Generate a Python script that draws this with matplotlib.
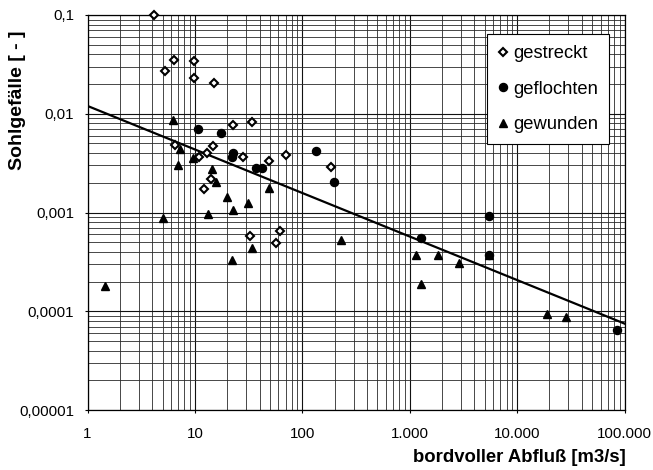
import matplotlib
matplotlib.use("Agg")
import matplotlib.pyplot as plt
from matplotlib.ticker import LogLocator, FixedLocator, FixedFormatter, NullFormatter

plt.rcParams['font.family'] = ['Liberation Sans', 'DejaVu Sans']

# gestreckt (open diamonds)
gestreckt_q = [4.2, 5.3, 6.4, 9.9, 9.9, 15.2, 22.5, 34.0, 6.5, 14.8, 13.0, 10.9,
               28.2, 49.2, 71.0, 185, 14.2, 12.1, 32.8, 62.0, 57.0]
gestreckt_s = [0.099, 0.0272, 0.0349, 0.0339, 0.0231, 0.0204, 0.00769, 0.00826,
               0.00486, 0.00475, 0.00404, 0.00367, 0.00364, 0.00330, 0.00385,
               0.00288, 0.00220, 0.00171, 0.000580, 0.000656, 0.000488]

# geflochten (filled circles)
geflochten_q = [10.8, 17.5, 22.6, 22.3, 36.7, 42.1, 133, 198, 5500, 1275, 5500, 86000]
geflochten_s = [0.00708, 0.00639, 0.00400, 0.00367, 0.00284, 0.00284, 0.00421,
                0.00205, 0.000925, 0.000557, 0.000368, 0.0000653]

# gewunden (filled triangles)
gewunden_q = [6.2, 7.3, 6.9, 9.6, 14.3, 15.7, 19.7, 22.6, 31.2, 48.5, 5.1, 13.3,
              22.3, 34.0, 231, 1.45, 1135, 1835, 2895, 1280, 19100, 28300, 5500]
gewunden_s = [0.00859, 0.00443, 0.00300, 0.00357, 0.00278, 0.00202, 0.00143,
              0.00106, 0.00124, 0.00177, 0.000889, 0.000955, 0.000333, 0.000438,
              0.000529, 0.000182, 0.000372, 0.000372, 0.000305, 0.000187,
              0.0000937, 0.0000879, 0.000368]

# regression line
trend_q = [1, 100000]
trend_s = [0.0120, 0.0000750]

x_ticks = [1, 10, 100, 1000, 10000, 100000]
x_labels = ['1', '10', '100', '1.000', '10.000', '100.000']
y_ticks = [0.00001, 0.0001, 0.001, 0.01, 0.1]
y_labels = ['0,00001', '0,0001', '0,001', '0,01', '0,1']

fig = plt.figure(figsize=(6.53, 4.70), dpi=100)
ax = fig.add_axes([87.5 / 653, 1 - 410 / 470, (624.5 - 87.5) / 653, (410 - 15) / 470])
ax.set_xscale('log')
ax.set_yscale('log')
ax.set_xlim(1, 100000)
ax.set_ylim(0.00001, 0.1)

ax.xaxis.set_major_locator(FixedLocator(x_ticks))
ax.xaxis.set_major_formatter(FixedFormatter(x_labels))
ax.yaxis.set_major_locator(FixedLocator(y_ticks))
ax.yaxis.set_major_formatter(FixedFormatter(y_labels))
ax.xaxis.set_minor_locator(LogLocator(base=10, subs=range(2, 10), numticks=20))
ax.yaxis.set_minor_locator(LogLocator(base=10, subs=range(2, 10), numticks=20))
ax.xaxis.set_minor_formatter(NullFormatter())
ax.yaxis.set_minor_formatter(NullFormatter())

ax.grid(True, which='major', color='#111111', lw=0.8)
ax.grid(True, which='minor', color='#2a2a2a', lw=0.6)
ax.set_axisbelow(True)
ax.tick_params(which='major', direction='out', length=2.5, width=0.8, color='black',
               labelsize=10.8)
ax.tick_params(axis='x', which='major', pad=10)
ax.tick_params(axis='y', which='major', pad=7)
ax.tick_params(which='minor', length=0)
for sp in ax.spines.values():
    sp.set_linewidth(0.9)
    sp.set_color('black')

ax.plot(trend_q, trend_s, color='black', lw=1.6, zorder=2)

ax.plot(gestreckt_q, gestreckt_s, linestyle='none', marker='D', ms=4.0,
        mfc='white', mec='black', mew=1.5, label='gestreckt', zorder=3, clip_on=False)
ax.plot(geflochten_q, geflochten_s, linestyle='none', marker='o', ms=5.8,
        mfc='black', mec='black', label='geflochten', zorder=3, clip_on=False)
ax.plot(gewunden_q, gewunden_s, linestyle='none', marker='^', ms=6.4,
        mfc='black', mec='black', label='gewunden', zorder=3, clip_on=False)

leg = ax.legend(loc='upper right', bbox_to_anchor=(609 / 653, 1 - 34 / 470),
                bbox_transform=fig.transFigure, fontsize=13.2, frameon=True,
                fancybox=False, framealpha=1, edgecolor='black', borderaxespad=0,
                labelspacing=1.02, handlelength=0.5, handletextpad=0.3,
                borderpad=0.6)
leg.get_frame().set_linewidth(0.8)

fig.text(18 / 653, 1 - 100 / 470, 'Sohlgefälle [ - ]', rotation=90, fontsize=14,
         fontweight='bold', ha='center', va='center')
fig.text(626 / 653, 1 - 458 / 470, 'bordvoller Abfluß [m3/s]', fontsize=13.3,
         fontweight='bold', ha='right', va='center')

fig.savefig('out.png', dpi=100)
